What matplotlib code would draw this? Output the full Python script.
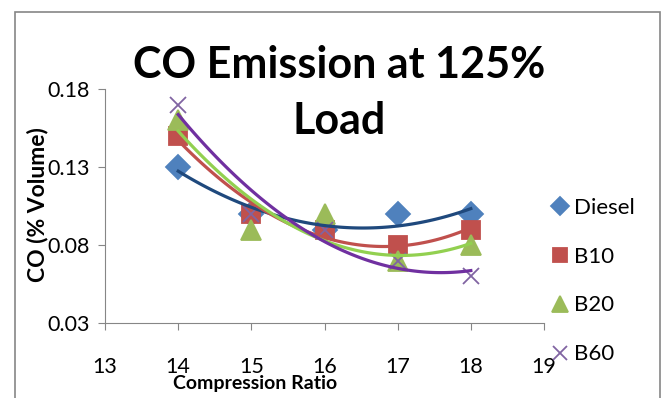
import numpy as np
import matplotlib.pyplot as plt
from matplotlib.patches import Rectangle

plt.rcParams['font.family'] = ['Lato', 'DejaVu Sans']

ratio = [14, 15, 16, 17, 18]
diesel = [0.13, 0.10, 0.09, 0.10, 0.10]
b10 = [0.15, 0.10, 0.09, 0.08, 0.09]
b20 = [0.16, 0.09, 0.10, 0.07, 0.08]
b60 = [0.17, 0.10, 0.09, 0.07, 0.06]

series = [
    ("Diesel", diesel, 'D', 12, '#4F81BD', '#1F497D'),
    ("B10", b10, 's', 13, '#C0504D', '#C0504D'),
    ("B20", b20, '^', 14, '#9BBB59', '#92D050'),
    ("B60", b60, 'x', 12, '#8064A2', '#7030A0'),
]

fig = plt.figure(figsize=(6.65, 3.98), dpi=100)
ax = fig.add_axes([0.158, 0.188, 0.66, 0.588])

xs = np.linspace(14, 18, 100)
for name, vals, mk, ms, mc, lc in series:
    ax.plot(ratio, vals, linestyle='none', marker=mk, markersize=ms,
            markeredgewidth=1.3, color=mc, label=name, zorder=3)
    # 2nd order polynomial trendline, like Excel
    coef = np.polyfit(ratio, vals, 2)
    ax.plot(xs, np.polyval(coef, xs), color=lc, linewidth=2.3, zorder=4)

ax.set_xlim(13, 19)
ax.set_ylim(0.03, 0.18)
ax.set_xticks(range(13, 20))
ax.set_yticks([0.03, 0.08, 0.13, 0.18])
ax.set_yticklabels(['0.03', '0.08', '0.13', '0.18'])
for s in ['top', 'right']:
    ax.spines[s].set_visible(False)
for s in ['left', 'bottom']:
    ax.spines[s].set_color('#868686')
ax.tick_params(colors='#868686', labelcolor='black', labelsize=15.5, length=5)
ax.tick_params(axis='x', pad=19)
ax.tick_params(axis='y', pad=6)

fig.text(255 / 665, 1 - 384 / 398, "Compression Ratio", ha='center', va='center',
         fontsize=14, fontweight='bold')
fig.text(38 / 665, 1 - 205 / 398, "CO (% Volume)", ha='center', va='center',
         rotation=90, fontsize=16.5, fontweight='bold')

fig.text(339 / 665, 1 - 93 / 398, "CO Emission at 125%\nLoad", ha='center', va='center',
         fontsize=31, fontweight='bold', linespacing=1.5)

ax.legend(loc='center left', bbox_to_anchor=(0.995, 0.18), frameon=False,
          fontsize=16, handlelength=0.8, handletextpad=0.25, labelspacing=1.3,
          borderaxespad=0.0, markerscale=0.8)

fig.patches.append(Rectangle((15 / 665, -0.02), 645 / 665, 1.02 - 12 / 398,
                             transform=fig.transFigure, fill=False,
                             edgecolor='#868686', linewidth=1.2))

fig.savefig("out.png", dpi=100)
